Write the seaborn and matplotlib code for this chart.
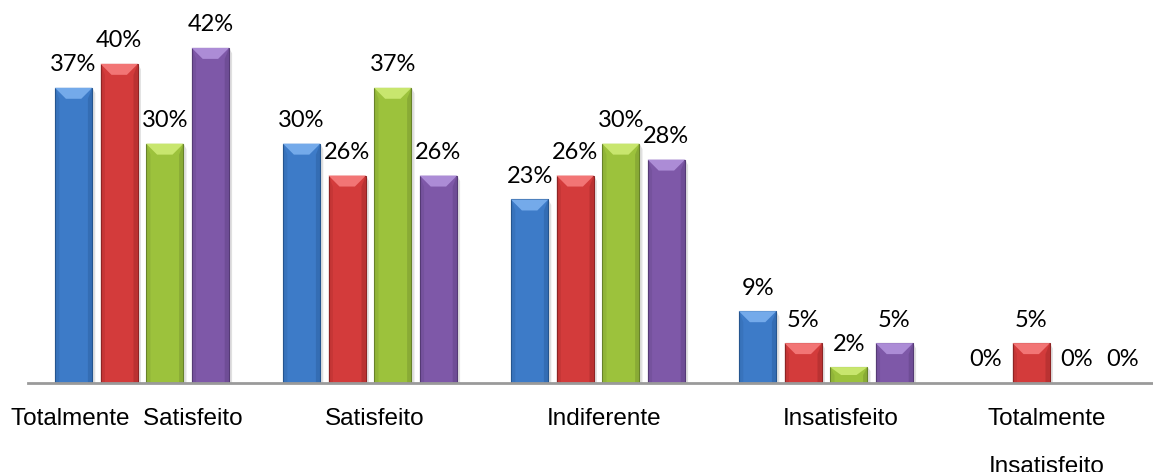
import matplotlib
matplotlib.use("Agg")
import matplotlib.pyplot as plt
import seaborn as sns
import pandas as pd
import numpy as np
from matplotlib.patches import Polygon
from matplotlib.transforms import ScaledTranslation

categories = ["Totalmente  Satisfeito", "Satisfeito", "Indiferente", "Insatisfeito", "Totalmente\nInsatisfeito"]
series_names = ["Série 1", "Série 2", "Série 3", "Série 4"]
serie1 = [37, 30, 23, 9, 0]
serie2 = [40, 26, 26, 5, 5]
serie3 = [30, 37, 30, 2, 0]
serie4 = [42, 26, 28, 5, 0]

colors = ["#3D7BC8", "#D33B3B", "#9CC23C", "#7E58A8"]
tops = ["#74AAEA", "#F27575", "#C8E66E", "#AC8CD6"]
darks = ["#25558F", "#8E2424", "#67822A", "#553A75"]

rows = []
for name, vals in zip(series_names, [serie1, serie2, serie3, serie4]):
    for c, v in zip(categories, vals):
        rows.append({"categoria": c, "serie": name, "valor": v})
df = pd.DataFrame(rows)

sns.set_style("white")
fig = plt.figure(figsize=(11.53, 4.72), dpi=100)
ax = fig.add_axes([28 / 1153, 1 - 383 / 472, 1140 / 1153, 383 / 472])

sns.barplot(data=df, x="categoria", y="valor", hue="serie", order=categories,
            hue_order=series_names, palette=colors, width=0.8, gap=0.18,
            saturation=1, legend=False, ax=ax, linewidth=0)

ax.set_xlim(-0.5, 4.5)
ax.set_ylim(0, 48)
ax.set_xlabel("")
ax.set_ylabel("")
ax.set_yticks([])
for s in ["top", "right", "left"]:
    ax.spines[s].set_visible(False)
ax.spines["bottom"].set_color("#9A9A9A")
ax.spines["bottom"].set_linewidth(2)
ax.tick_params(axis="x", length=0, pad=18)
label_shift_px = [-15, 5, 6, 15, -7]
for lab, dx in zip(ax.get_xticklabels(), label_shift_px):
    lab.set_fontfamily("Liberation Sans")
    lab.set_fontsize(17.5)
    lab.set_color("#000000")
    lab.set_linespacing(2.55)
    lab.set_transform(lab.get_transform() + ScaledTranslation(dx / 100, 0, fig.dpi_scale_trans))

fig.canvas.draw()
inv = ax.transData.inverted()
p0 = inv.transform((0, 0))
p1 = inv.transform((11, 11))
bx = p1[0] - p0[0]
by = p1[1] - p0[1]
sx = inv.transform((3, 0))[0] - p0[0]

for i, cont in enumerate(ax.containers):
    for bar in cont:
        h = bar.get_height()
        if h <= 0:
            continue
        x0 = bar.get_x()
        w = bar.get_width()
        x1 = x0 + w
        bar.set_edgecolor(darks[i])
        bar.set_linewidth(0.8)
        d = min(by, h / 2)
        ax.add_patch(Polygon([(x1, 0), (x1 + sx, 0), (x1 + sx, h - d / 2), (x1, h)],
                             closed=True, facecolor="#000000", alpha=0.12,
                             linewidth=0, zorder=bar.get_zorder() - 0.1))
        ax.add_patch(Polygon([(x0, h), (x1, h), (x1 - bx, h - d), (x0 + bx, h - d)],
                             closed=True, facecolor=tops[i], linewidth=0,
                             zorder=bar.get_zorder() + 0.1))
        ax.add_patch(Polygon([(x1 - bx * 0.4, h - d), (x1, h), (x1, 0), (x1 - bx * 0.4, 0)],
                             closed=True, facecolor=darks[i], alpha=0.35,
                             linewidth=0, zorder=bar.get_zorder() + 0.1))
        ax.add_patch(Polygon([(x0, h), (x0 + bx * 0.4, h - d), (x0 + bx * 0.4, 0), (x0, 0)],
                             closed=True, facecolor=darks[i], alpha=0.2,
                             linewidth=0, zorder=bar.get_zorder() + 0.1))

all_vals = [serie1, serie2, serie3, serie4]
for i, cont in enumerate(ax.containers):
    ax.bar_label(cont, labels=[f"{v}%" for v in all_vals[i]], padding=9,
                 fontsize=17, family="Lato", color="#000000")

fig.savefig("out.png", dpi=100)
